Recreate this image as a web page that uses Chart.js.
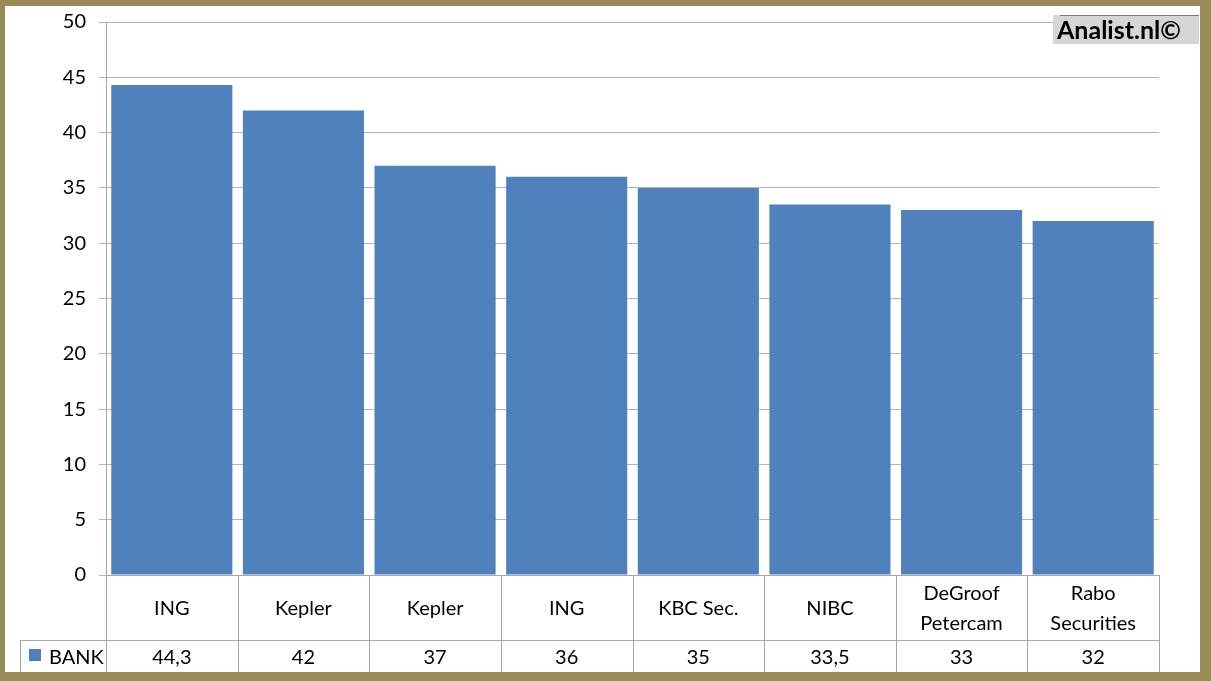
<!DOCTYPE html>
<html>
<head>
<meta charset="utf-8">
<script src="https://cdn.jsdelivr.net/npm/chart.js@4/dist/chart.umd.min.js"></script>
<style>
  html, body { margin: 0; padding: 0; background: #fff; }
  canvas { display: block; }
</style>
</head>
<body>
<canvas id="bankChart" width="1211" height="681"></canvas>
<script>
const categories = ['ING', 'Kepler', 'Kepler', 'ING', 'KBC Sec.', 'NIBC', ['DeGroof', 'Petercam'], ['Rabo', 'Securities']];
const bankValues = [44.3, 42, 37, 36, 35, 33.5, 33, 32];
const seriesName = 'BANK';
const yMin = 0, yMax = 50, yStep = 5;
const watermark = 'Analist.nl©';

const BLUE = '#4f81bd';
const GRID = '#b4b4b4';
const FONT = 'Lato, "Open Sans", sans-serif';

const fmt = (v) => String(v).replace('.', ',');

const frame = {
    id: 'frame',
    afterDraw(chart) {
        const { ctx, width, height } = chart;
        ctx.save();
        ctx.fillStyle = '#978c56';
        ctx.fillRect(0, 0, width, 6);
        ctx.fillRect(0, 0, 5, height);
        ctx.fillRect(width - 11, 0, 11, height);
        ctx.fillRect(0, height - 9, width, 9);
        ctx.restore();
    },
};

const dataTable = {
    id: 'dataTable',
    afterDatasetsDraw(chart) {
        const { ctx, chartArea: a, scales: { x } } = chart;
        const step = (a.right - a.left) / categories.length;
        const top = a.bottom, mid = top + 65, bot = mid + 33;
        const legendLeft = 20;
        ctx.save();
        ctx.strokeStyle = '#a6a6a6';
        ctx.lineWidth = 1;
        ctx.beginPath();
        ctx.moveTo(a.left, top + 0.5); ctx.lineTo(a.right, top + 0.5);
        ctx.moveTo(legendLeft, mid + 0.5); ctx.lineTo(a.right, mid + 0.5);
        ctx.moveTo(legendLeft, bot + 0.5); ctx.lineTo(a.right, bot + 0.5);
        for (let i = 0; i <= categories.length; i++) {
            const xx = Math.round(a.left + i * step) + 0.5;
            ctx.moveTo(xx, top); ctx.lineTo(xx, bot);
        }
        ctx.moveTo(legendLeft + 0.5, mid); ctx.lineTo(legendLeft + 0.5, bot);
        ctx.stroke();

        ctx.fillStyle = '#000';
        ctx.font = '20px ' + FONT;
        ctx.textAlign = 'center';
        ctx.textBaseline = 'middle';
        categories.forEach((c, i) => {
            const cx = x.getPixelForValue(i);
            const lines = Array.isArray(c) ? c : [c];
            const lh = 30;
            const y0 = (top + mid) / 2 - (lines.length - 1) * lh / 2 + 1;
            lines.forEach((t, j) => ctx.fillText(t, cx, y0 + j * lh));
            ctx.fillText(fmt(bankValues[i]), cx, (mid + bot) / 2 + 1);
        });

        ctx.fillStyle = BLUE;
        ctx.fillRect(legendLeft + 9, mid + 9, 12, 12);
        ctx.fillStyle = '#000';
        ctx.textAlign = 'left';
        ctx.fillText(seriesName, legendLeft + 29, (mid + bot) / 2 + 1);
        ctx.restore();
    },
    afterDraw(chart) {
        const { ctx } = chart;
        const bx = 1053, by = 15, bw = 146, bh = 29;
        ctx.save();
        ctx.fillStyle = '#d6d6d6';
        ctx.fillRect(bx, by, bw, bh);
        ctx.strokeStyle = '#7a7a7a';
        ctx.beginPath();
        ctx.moveTo(bx + 7, by + 0.5); ctx.lineTo(bx + bw, by + 0.5);
        ctx.stroke();
        ctx.fillStyle = '#000';
        ctx.font = 'bold 25px ' + FONT;
        ctx.textBaseline = 'middle';
        ctx.fillText(watermark, bx + 4, by + bh / 2 + 1);
        ctx.restore();
    },
};

new Chart(document.getElementById('bankChart'), {
    type: 'bar',
    data: {
        labels: categories,
        datasets: [{ label: seriesName, data: bankValues, backgroundColor: BLUE, borderWidth: 0 }],
    },
    options: {
        responsive: false,
        animation: false,
        devicePixelRatio: 1,
        layout: { padding: { left: 0, right: 52, top: 22, bottom: 106 } },
        datasets: { bar: { barPercentage: 0.92, categoryPercentage: 1 } },
        plugins: { legend: { display: false }, tooltip: { enabled: false } },
        scales: {
            x: { display: false, offset: true },
            y: {
                min: yMin, max: yMax,
                ticks: { stepSize: yStep, color: '#000', padding: 13, font: { family: FONT, size: 20 } },
                grid: { color: GRID, tickLength: 7, tickColor: GRID },
                border: { color: '#a6a6a6' },
                afterFit: (s) => { s.width = 106; s.paddingTop = 0; s.paddingBottom = 0; },
            },
        },
    },
    plugins: [dataTable, frame],
});
</script>
</body>
</html>
